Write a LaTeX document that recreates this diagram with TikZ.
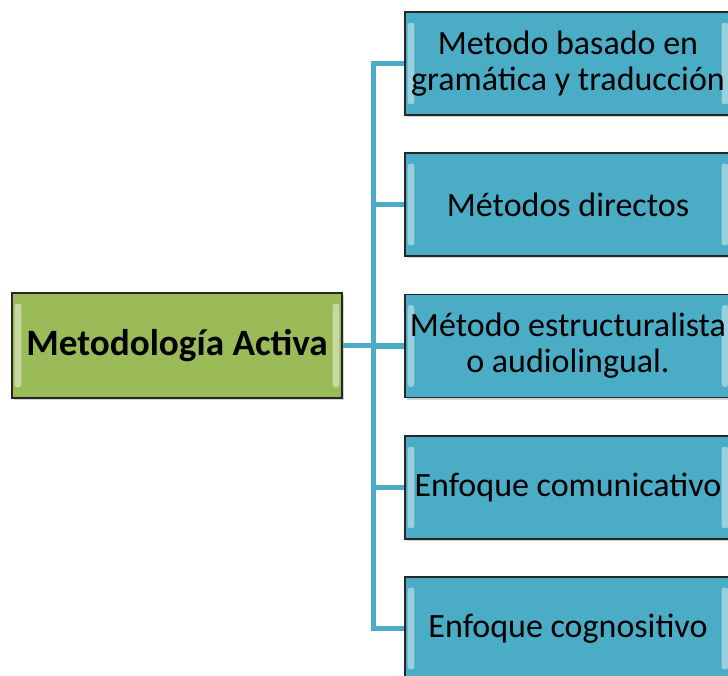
\documentclass[tikz,border=0pt]{standalone}
\usepackage{fontspec}
\setmainfont{Carlito}
\usetikzlibrary{shadows}
\definecolor{olivebox}{HTML}{9BBB59}
\definecolor{aquabox}{HTML}{4BACC6}
\definecolor{aqualine}{HTML}{4BACC6}
\tikzset{
  bevel box/.style={
    draw=black!85,
    line width=1.1pt,
    align=center,
    inner sep=0pt,
    drop shadow={shadow xshift=1.5pt, shadow yshift=-1.5pt, opacity=0.35},
    path picture={
      \fill[#1, rounded corners=2pt, opacity=0.8]
        ([xshift=2pt, yshift=8pt]path picture bounding box.south west)
        rectangle ([xshift=7pt, yshift=-8pt]path picture bounding box.north west);
      \fill[#1, rounded corners=2pt, opacity=0.8]
        ([xshift=-2pt, yshift=8pt]path picture bounding box.south east)
        rectangle ([xshift=-7pt, yshift=-8pt]path picture bounding box.north east);
    },
  },
  root node/.style={
    bevel box=olivebox!45!white,
    fill=olivebox,
    minimum width=247.5pt,
    minimum height=78.75pt,
    font=\fontsize{27.9}{30}\selectfont\bfseries,
  },
  method node/.style={
    bevel box=aquabox!45!white,
    fill=aquabox,
    minimum width=244.5pt,
    minimum height=77.25pt,
    font=\fontsize{25.5}{27}\selectfont,
  },
  link/.style={
    draw=aqualine,
    line width=3.8pt,
  },
}

\begin{document}
\begin{tikzpicture}[x=0.75pt, y=-0.75pt]
      \useasboundingbox (0,0) rectangle (728,675);
      \clip (0,0) rectangle (728,675);

      \node[root node] (root) at (177,345.5) {Metodología Activa};

      \node[method node] (m1) at (568,63.5) {Metodo basado en\\gramática y traducción};
      \node[method node] (m2) at (568,204.5) {Métodos directos};
      \node[method node] (m3) at (568,346) {Método estructuralista\\o audiolingual.};
      \node[method node] (m4) at (568,487.5) {Enfoque comunicativo};
      \node[method node] (m5) at (568,628.5) {Enfoque cognositivo};

      % connectors
      \foreach \i in {1,...,5}
        \draw[link] (root.east) -- ++(31,0) |- (m\i.west);
    \end{tikzpicture}
\end{document}
